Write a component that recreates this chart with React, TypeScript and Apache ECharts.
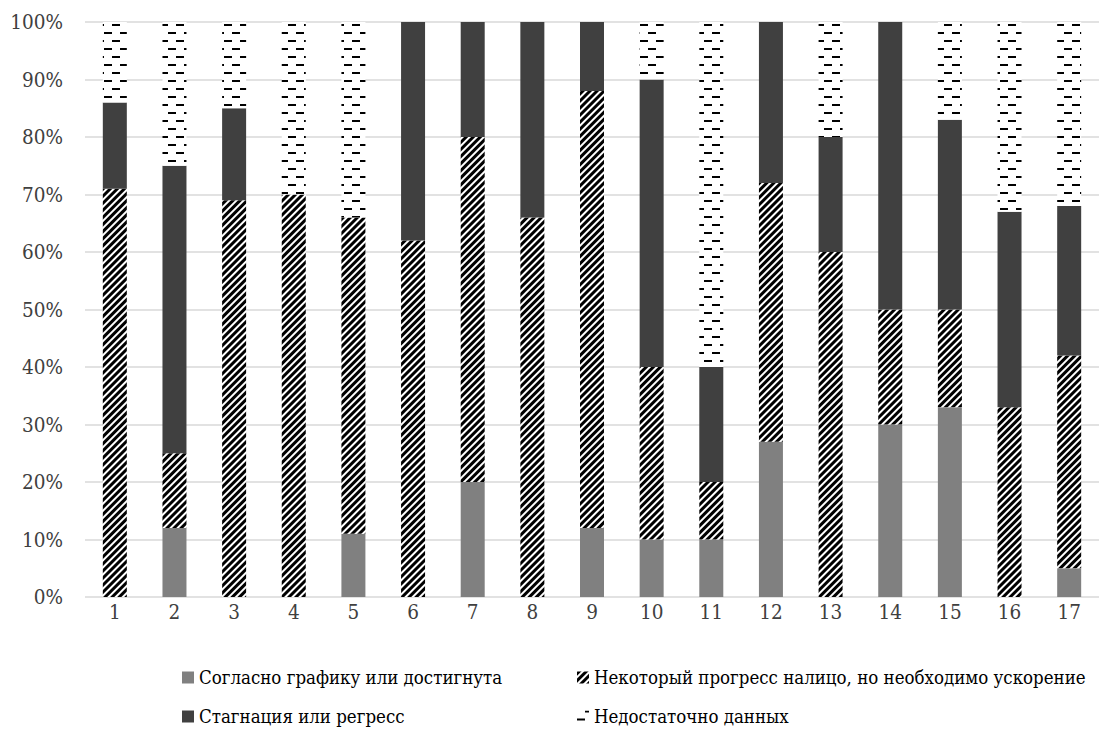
import React, { useEffect, useRef } from "react";
import * as echarts from "echarts";

const categories = ["1", "2", "3", "4", "5", "6", "7", "8", "9", "10", "11", "12", "13", "14", "15", "16", "17"];
const onTrack = [0, 12, 0, 0, 11, 0, 20, 0, 12, 10, 10, 27, 0, 30, 33, 0, 5];
const someProgress = [71, 13, 69, 70, 55, 62, 60, 66, 76, 30, 10, 45, 60, 20, 17, 33, 37];
const stagnation = [15, 50, 16, 0, 0, 38, 20, 34, 12, 50, 20, 28, 20, 50, 33, 34, 26];
const noData = [14, 25, 15, 30, 34, 0, 0, 0, 0, 10, 60, 0, 20, 0, 17, 33, 32];
const yTicks = [0, 10, 20, 30, 40, 50, 60, 70, 80, 90, 100];

const seriesNames = [
  "Согласно графику или достигнута",
  "Некоторый прогресс налицо, но необходимо ускорение",
  "Стагнация или регресс",
  "Недостаточно данных",
];

const FONT = "DejaVu Serif Condensed";

export default function App() {
  const ref = useRef<HTMLDivElement>(null);
  useEffect(() => {
    if (!ref.current) return;
    const chart = echarts.init(ref.current, null, { renderer: "svg" });
    const stripeDecal = {
      symbol: "rect",
      symbolSize: 1,
      color: "#000000",
      dashArrayX: [1, 0],
      dashArrayY: [2.4, 1.8],
      rotation: -Math.PI / 4,
    };
    const dashDecal = {
      symbol: "rect",
      symbolSize: 1,
      color: "#000000",
      dashArrayX: [[8, 8], [0, 8, 8, 0]],
      dashArrayY: [2, 6],
      rotation: 0,
    };
    const legendBase = {
      itemWidth: 12,
      itemHeight: 12,
      icon: "rect",
      textStyle: { fontFamily: FONT, fontSize: 18.5, color: "#000" },
      selectedMode: false,
    };
    const mk = (name: string, data: number[], color: string, decal?: any) => ({
      name,
      type: "bar",
      stack: "total",
      barWidth: 24,
      data,
      itemStyle: decal ? { color, decal } : { color },
    });
    chart.setOption({
      animation: false,
      textStyle: { fontFamily: FONT },
      grid: { left: 85, right: -10, top: 22, bottom: 132 },
      legend: [
        { ...legendBase, data: [seriesNames[0]], left: 177, top: 663 },
        { ...legendBase, data: [seriesNames[1]], left: 572, top: 663 },
        { ...legendBase, data: [seriesNames[2]], left: 177, top: 702 },
        { ...legendBase, data: [seriesNames[3]], left: 572, top: 702 },
      ],
      xAxis: {
        type: "category",
        data: categories,
        axisLine: { show: false },
        axisTick: { show: false },
        axisLabel: { fontFamily: FONT, fontSize: 20.5, color: "#404040", margin: 4 },
      },
      yAxis: {
        type: "value",
        min: yTicks[0],
        max: yTicks[yTicks.length - 1],
        interval: 10,
        axisLine: { show: false },
        axisTick: { show: false },
        splitLine: { lineStyle: { color: "#d9d9d9", width: 1.5 } },
        axisLabel: {
          fontFamily: FONT,
          fontSize: 20.5,
          color: "#404040",
          margin: 22,
          formatter: "{value}%",
        },
      },
      series: [
        mk(seriesNames[0], onTrack, "#808080"),
        mk(seriesNames[1], someProgress, "#ffffff", stripeDecal),
        mk(seriesNames[2], stagnation, "#404040"),
        mk(seriesNames[3], noData, "#ffffff", dashDecal),
      ],
    });
    return () => chart.dispose();
  }, []);
  return (
    <div
      ref={ref}
      style={{ position: "absolute", left: 0, top: 0, width: 1099, height: 729 }}
    />
  );
}
